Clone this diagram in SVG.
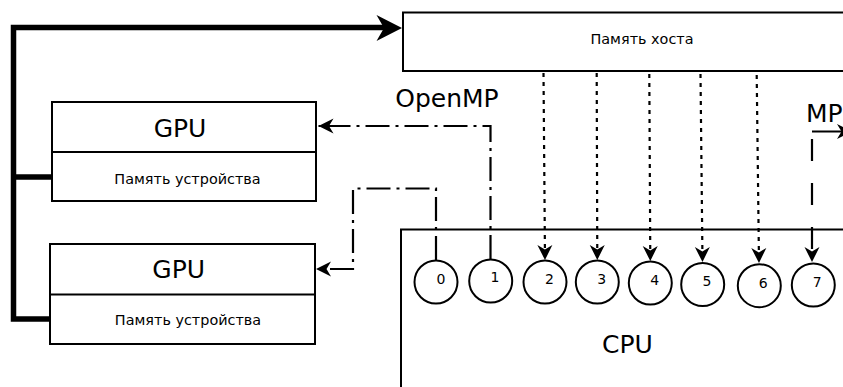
<svg xmlns="http://www.w3.org/2000/svg" width="843" height="387" viewBox="0 0 843 387">
<defs>
<style>
.box{fill:#fff;stroke:#000;stroke-width:2}
.t{font-family:"DejaVu Sans","Liberation Sans",sans-serif;fill:#000}
.big{font-size:25px;text-anchor:middle}
.sm{font-size:14.4px;text-anchor:middle}
.num{font-size:14px;text-anchor:middle}
.thick{fill:none;stroke:#000;stroke-width:5.5}
.dot{fill:none;stroke:#000;stroke-width:2.2;stroke-dasharray:4,5}
.dd{fill:none;stroke:#000;stroke-width:2.2;stroke-dasharray:24,6,3,6}
.dash{fill:none;stroke:#000;stroke-width:2.2;stroke-dasharray:22,22}
.solid{fill:none;stroke:#000;stroke-width:2.2}
</style>
<marker id="ah" markerUnits="userSpaceOnUse" viewBox="-16 -8 17 16" refX="0" refY="0" markerWidth="17" markerHeight="16" orient="auto" overflow="visible">
<path d="M0,0 L-15,-7.5 L-10.5,0 L-15,7.5 Z" fill="#000"/>
</marker>
</defs>
<g id="host">
<rect class="box" x="403" y="12.5" width="460" height="58.5"/>
<text class="t sm" x="642" y="43.5">Память хоста</text>
</g>
<g id="gpu1">
<rect class="box" x="52" y="102" width="264" height="99"/>
<line x1="52" y1="152" x2="316" y2="152" stroke="#000" stroke-width="2"/>
<text class="t big" x="180" y="137">GPU</text>
<text class="t sm" x="187.5" y="184">Память устройства</text>
</g>
<g id="gpu2">
<rect class="box" x="50" y="244" width="265" height="100"/>
<line x1="50" y1="294.5" x2="315" y2="294.5" stroke="#000" stroke-width="2"/>
<text class="t big" x="178.7" y="278">GPU</text>
<text class="t sm" x="188" y="324.5">Память устройства</text>
</g>
<g id="cpu">
<rect class="box" x="401" y="229.5" width="460" height="200"/>
<text class="t big" x="627.5" y="353">CPU</text>
</g>
<g id="labels">
<text class="t big" x="447" y="107">OpenMP</text>
<text class="t" font-size="25" x="806" y="121.5">MP</text>
</g>
<g id="core0"><circle class="box" cx="436" cy="282" r="21.5"/><text class="t num" x="441" y="283.5">0</text></g>
<g id="core1"><circle class="box" cx="490.7" cy="281" r="21.5"/><text class="t num" x="495" y="282">1</text></g>
<g id="core2"><circle class="box" cx="545" cy="282" r="21.5"/><text class="t num" x="549.5" y="283.5">2</text></g>
<g id="core3"><circle class="box" cx="597.3" cy="282" r="21.5"/><text class="t num" x="601.7" y="283.5">3</text></g>
<g id="core4"><circle class="box" cx="650.3" cy="283" r="21.5"/><text class="t num" x="654.7" y="285">4</text></g>
<g id="core5"><circle class="box" cx="702.7" cy="284.5" r="21.5"/><text class="t num" x="707" y="286">5</text></g>
<g id="core6"><circle class="box" cx="759.3" cy="285.7" r="21.5"/><text class="t num" x="763.3" y="287.5">6</text></g>
<g id="core7"><circle class="box" cx="813.3" cy="285" r="21.5"/><text class="t num" x="817.3" y="286.5">7</text></g>
<g id="connectors">
<path class="thick" d="M50,319 H13.5 V27.5 H386"/>
<path class="thick" d="M13.5,177 H52"/>
<path d="M402,28 L376.5,15 L384,28 L376.5,41 Z" fill="#000"/>
<path class="dot" d="M543.5,73 L545,260" marker-end="url(#ah)"/>
<path class="dot" d="M596.7,73 L597.3,260" marker-end="url(#ah)"/>
<path class="dot" d="M649.3,74 L650.3,261" marker-end="url(#ah)"/>
<path class="dot" d="M700.5,74 L702.5,262" marker-end="url(#ah)"/>
<path class="dot" d="M756.7,75 L759,263" marker-end="url(#ah)"/>
<path class="dd" d="M490.5,259 V126 H318.5" marker-end="url(#ah)"/>
<path class="dd" d="M436,260 V188.5 H353 V269 H316" marker-end="url(#ah)"/>
<path class="dash" d="M812,139 V262" marker-end="url(#ah)"/>
<path class="solid" d="M812,131.5 H852" marker-end="url(#ah)"/>
</g>
</svg>
